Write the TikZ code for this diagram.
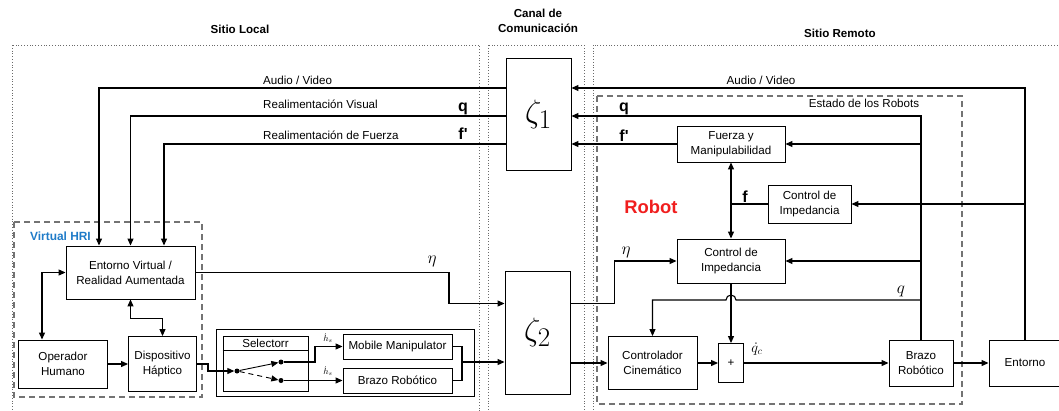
\documentclass[tikz,border=0pt]{standalone}
\usepackage{amsmath}
\usepackage{graphicx}
\usepackage[no-math]{fontspec}
\setmainfont{Liberation Sans}
\usepackage{xcolor}
\usepackage{tikz}
\usetikzlibrary{arrows.meta}
\definecolor{hriblue}{HTML}{1F7BC8}
\definecolor{robred}{HTML}{F01E1E}
\definecolor{zonegray}{HTML}{6A6A6A}
\newcommand{\lbltxt}{\fontsize{11.6}{15}\selectfont}
\newcommand{\symtxt}{\fontsize{16}{18}\selectfont\bfseries}
\newcommand{\zetatxt}[1]{\scalebox{1.3}{\fontsize{24.88}{26}\selectfont$\zeta_{#1}$}}

\begin{document}
\begin{tikzpicture}[
  x=1pt,y=-1pt,
  blk/.style={draw=black,line width=0.9pt,inner sep=0pt,align=center,font=\lbltxt},
  lbl/.style={inner sep=1pt,font=\lbltxt},
  sym/.style={inner sep=0pt,font=\symtxt},
  mth/.style={inner sep=0pt,font=\fontsize{17.28}{19}\selectfont},
  ttl/.style={inner sep=0pt,align=center,font=\fontsize{11.6}{14.5}\selectfont\bfseries},
  arr/.style={-{Triangle[length=7pt,width=6pt]},line width=1.1pt},
  dbl/.style={{Triangle[length=7pt,width=6pt]}-{Triangle[length=7pt,width=6pt]},line width=1.1pt},
  zone/.style={dotted,line width=0.8pt,color=zonegray},
  grp/.style={dash pattern=on 6pt off 4pt,line width=1.2pt,color=black!55},
  dot/.style={circle,fill=black,inner sep=0pt,minimum size=5pt}
]
\useasboundingbox (0,0) rectangle (1059,410);
\clip (0,0) rectangle (1059,410);

% zonas
\draw[zone] (12,45) rectangle (479,430);
\draw[zone] (488,45) rectangle (584,430);
\draw[zone] (593,45) rectangle (1080,430);
\node[ttl] at (240,29) {Sitio Local};
\node[ttl] at (538,21) {Canal de\\Comunicación};
\node[ttl] at (840,33) {Sitio Remoto};

% grupos
\draw[grp] (14,222) rectangle (202,397);
\draw[grp] (597,96) rectangle (962,404);
\node[font=\fontsize{11.9}{14}\selectfont\bfseries,text=hriblue,anchor=west,inner sep=0pt] at (30,236) {Virtual HRI};
\node[font=\fontsize{18.4}{20}\selectfont\bfseries,text=robred,inner sep=0pt] at (651,207) {Robot};
\node[lbl] at (864,103) {Estado de los Robots};

% sitio local
\node[blk,minimum width=129pt,minimum height=53pt] (ev) at (130.5,272.5) {Entorno Virtual /\\Realidad Aumentada};
\node[blk,minimum width=89pt,minimum height=48pt] (oh) at (63,364) {Operador\\Humano};
\node[blk,minimum width=68pt,minimum height=55pt] (dh) at (162.5,364) {Dispositivo\\Háptico};
\node[draw,line width=0.9pt,minimum width=258pt,minimum height=67pt] (selo) at (345,362.5) {};
\node[draw,line width=0.9pt,minimum width=85pt,minimum height=55pt] (sel) at (265.5,363.5) {};
\draw[line width=0.9pt] (sel.west |- 0,350) -- (sel.east |- 0,350);
\node[lbl] at (265.5,343) {Selectorr};
\node[blk,minimum width=109pt,minimum height=25pt] (mm) at (397.5,346.5) {Mobile Manipulator};
\node[blk,minimum width=109pt,minimum height=25pt] (br) at (397.5,380.5) {Brazo Robótico};
\node[dot] (piv) at (237,371) {};
\node[dot] (cup) at (281,362) {};
\node[dot] (cdn) at (281,380.5) {};

% canal
\node[blk,minimum width=65pt,minimum height=112pt] (z1) at (538.5,114) {\zetatxt{1}};
\node[blk,minimum width=65pt,minimum height=123pt] (z2) at (537.5,332.5) {\zetatxt{2}};

% sitio remoto
\node[blk,minimum width=108pt,minimum height=36pt] (fm) at (731,144) {Fuerza y\\Manipulabilidad};
\node[blk,minimum width=83pt,minimum height=38pt] (ci1) at (809.5,204) {Control de\\Impedancia};
\node[blk,minimum width=108pt,minimum height=44pt] (ci2) at (731,261) {Control de\\Impedancia};
\node[blk,minimum width=89pt,minimum height=53pt] (cc) at (652.5,363) {Controlador\\Cinemático};
\node[blk,minimum width=25pt,minimum height=39pt] (sum) at (731,363) {+};
\node[blk,minimum width=64pt,minimum height=46pt] (ba) at (921,363) {Brazo\\Robótico};
\node[blk,minimum width=72pt,minimum height=46pt] (ent) at (1025,363) {Entorno};

\coordinate (yav) at (0,88);
\coordinate (yq) at (0,116);
\coordinate (yf) at (0,144);

% realimentaciones
\draw[arr] (ent.north) |- (z1.east |- yav);
\draw[arr] (ba.north) |- (z1.east |- yq);
\draw[arr] (ba.north |- fm.east) -- (fm.east);
\draw[arr] (fm.west) -- (z1.east |- yf);
\draw[arr] (z1.west |- yav) -| (ev.north -| 99,0);
\draw[arr] (z1.west |- yq) -| (ev.north);
\draw[arr] (z1.west |- yf) -| (ev.north -| 164,0);
\node[lbl,anchor=west] at (262,80) {Audio / Video};
\node[lbl,anchor=west] at (262,104) {Realimentación Visual};
\node[lbl,anchor=west] at (262,135) {Realimentación de Fuerza};
\node[lbl] at (761,80) {Audio / Video};
\node[sym,anchor=base] at (463,111) {q};
\node[sym,anchor=base] at (463,139.5) {f\textquotesingle};
\node[sym,anchor=base] at (624,111) {q};
\node[sym,anchor=base] at (624,141) {f\textquotesingle};

% control remoto
\draw[arr] (ent.north |- ci1.east) -- (ci1.east);
\draw[line width=1.1pt] (ci1.west) -- (fm.south |- ci1.west) coordinate (fj);
\draw[arr] (fj) -- (fm.south);
\draw[arr] (fj) -- (ci2.north);
\node[sym,anchor=base] at (745,202) {f};
\draw[arr] (ba.north |- ci2.east) -- (ci2.east);
\draw[arr] (ci2.south) -- (sum.north);
\draw[arr] (ba.north |- 0,300) -- (736,300) arc[start angle=0,end angle=180,radius=5pt] -| (cc.north);
\node[mth] at (901,291) {$q$};
\draw[arr] (cc) -- (sum);
\draw[arr] (sum) -- (ba);
\node[inner sep=0pt,font=\fontsize{14.4}{16}\selectfont] at (757,349) {$\dot q_c$};
\draw[arr] (ba) -- (ent);

% sitio local
\coordinate (etabend) at (449,303.5);
\draw[arr] (ev.east) -| (etabend) -- (z2.west |- etabend);
\node[mth] at (432,261) {$\eta$};
\draw[arr] (z2.east |- etabend) -- ++(44,0) |- (ci2.west);
\node[mth] at (626,252) {$\eta$};
\draw[dbl] (oh.north -| 42,0) |- (ev.west);
\draw[dbl] (ev.south) -- ++(0,19) -| (dh.north);
\draw[arr] (oh) -- (dh);
\draw[arr] (dh.east) -- ++(11,0) |- (piv);
\draw[arr,line width=0.9pt] (piv) -- (cup);
\draw[arr,line width=0.9pt,dash pattern=on 5pt off 4pt] (piv) -- (cdn);
\draw[arr] (cup) -- ++(34,0) |- (mm.west);
\draw[arr] (cdn) -- (br.west);
\node[inner sep=0pt,font=\fontsize{9}{10}\selectfont] at (328,338) {$\dot h_s$};
\node[inner sep=0pt,font=\fontsize{9}{10}\selectfont] at (328,371) {$\dot h_s$};
\coordinate (mrg) at (462,362);
\draw[line width=1.1pt] (mm.east) -| (mrg);
\draw[line width=1.1pt] (br.east) -| (mrg);
\draw[arr] (mrg) -- (z2.west |- mrg);
\draw[arr] (z2.east |- cc.west) -- (cc.west);
\end{tikzpicture}
\end{document}
